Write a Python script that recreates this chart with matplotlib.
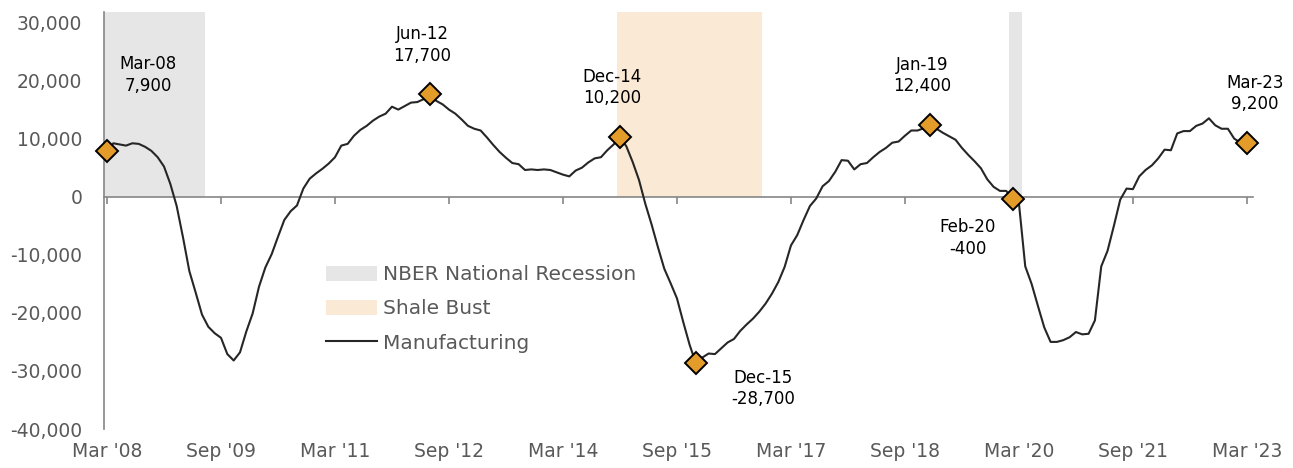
import numpy as np
import matplotlib.pyplot as plt
from matplotlib.patches import Patch
from matplotlib.lines import Line2D

# monthly change, Mar 2008 .. Mar 2023 (index 0 = Mar '08)
manufacturing = [
    7900, 9200, 9000, 8800, 9200, 9100, 8600, 7900, 6800, 5200,
    2200, -1600, -7000, -12800, -16500, -20300, -22400, -23500, -24300, -27100,
    -28200, -26800, -23200, -20100, -15500, -12200, -9900, -6900, -4000, -2500,
    -1500, 1400, 3100, 4000, 4800, 5700, 6800, 8800, 9100, 10500,
    11500, 12200, 13100, 13800, 14300, 15500, 15000, 15600, 16200, 16300,
    16800, 17700, 16500, 15900, 15000, 14300, 13300, 12200, 11700, 11400,
    10200, 8900, 7700, 6700, 5800, 5600, 4600, 4700, 4600, 4700,
    4600, 4200, 3800, 3500, 4500, 5000, 5900, 6600, 6800, 8000,
    9000, 10200, 8700, 6000, 2900, -1200, -4800, -8700, -12400, -14900,
    -17500, -21600, -25500, -28700, -27700, -27000, -27100, -26100, -25100, -24500,
    -23100, -22000, -21000, -19800, -18400, -16700, -14700, -12100, -8400, -6600,
    -4000, -1600, -300, 1800, 2700, 4300, 6300, 6200, 4700, 5600,
    5800, 6800, 7700, 8400, 9300, 9500, 10500, 11400, 11400, 11800,
    12400, 11700, 11000, 10400, 9800, 8400, 7200, 6100, 4900, 3000,
    1700, 1000, 1000, -400, -1100, -12000, -15000, -18800, -22500, -25000,
    -25000, -24700, -24200, -23300, -23700, -23600, -21300, -12000, -9300, -5000,
    -500, 1400, 1300, 3500, 4600, 5400, 6600, 8100, 8000, 10900,
    11300, 11300, 12200, 12600, 13500, 12300, 11700, 11700, 10000, 9300,
    9200,
]
months = np.arange(len(manufacturing))

tick_months = [0, 18, 36, 54, 72, 90, 108, 126, 144, 162, 180]
tick_labels = ["Mar '08", "Sep '09", "Mar '11", "Sep '12", "Mar '14", "Sep '15",
               "Mar '17", "Sep '18", "Mar '20", "Sep '21", "Mar '23"]

# shaded periods (first month, last month)
nber_recessions = [(0, 15), (143, 144)]
shale_bust = [(81, 103)]

# highlighted points
point_months = [0, 51, 81, 93, 130, 143, 180]
point_names = ['Mar-08', 'Jun-12', 'Dec-14', 'Dec-15', 'Jan-19', 'Feb-20', 'Mar-23']
label_offsets = [(41, 76), (-8, 49), (-8, 50), (67, -25), (-8, 49), (-45, -39), (8, 50)]

gray_txt = '#595959'
axis_col = '#868686'
ymin, ymax = -40000, 31800

plt.rcParams['font.family'] = ['DejaVu Sans']

fig = plt.figure(figsize=(12.93, 4.68), dpi=100)
ax = fig.add_axes([0.0808, 0.0833, 0.8855, 0.891])

# shading only above the zero line
zero_frac = (0 - ymin) / (ymax - ymin)
for s, e in nber_recessions:
    ax.axvspan(s - 0.5, e + 0.5, ymin=zero_frac, ymax=1, color='#E6E6E6', lw=0, zorder=1)
for s, e in shale_bust:
    ax.axvspan(s - 0.5, e + 0.5, ymin=zero_frac, ymax=1, color='#F9E9D5', lw=0, zorder=1)

ax.plot(months, manufacturing, color='#262626', lw=1.5, zorder=3)

vals = [manufacturing[m] for m in point_months]
ax.plot(point_months, vals, ls='none', marker='D', ms=11, mfc='#E39B2A',
        mec='black', mew=1.4, zorder=4, clip_on=False)

for m, v, name, off in zip(point_months, vals, point_names, label_offsets):
    ax.annotate(f"{name}\n{v:,.0f}", (m, v), xytext=off, textcoords='offset pixels',
                ha='center', va='center', fontsize=12, color='black',
                linespacing=1.25, zorder=5)

ax.set_xlim(-0.4, 180.4)
ax.set_ylim(ymin, ymax)
ax.set_yticks(np.arange(-40000, 30001, 10000))
ax.yaxis.set_major_formatter(plt.FuncFormatter(lambda v, p: f"{v:,.0f}"))
ax.tick_params(axis='y', length=0, pad=16, labelsize=13.5, labelcolor=gray_txt)

ax.spines['top'].set_visible(False)
ax.spines['right'].set_visible(False)
ax.spines['left'].set_color(axis_col)
ax.spines['bottom'].set_color(axis_col)
ax.spines['left'].set_linewidth(1.2)
ax.spines['bottom'].set_linewidth(1.2)
ax.spines['bottom'].set_position(('data', 0))
ax.spines['bottom'].set_bounds(-0.4, 181)
ax.set_xticks(tick_months)
ax.tick_params(axis='x', length=5, width=1.2, color=axis_col, labelbottom=False)

sec = ax.secondary_xaxis('bottom')
sec.set_xticks(tick_months, tick_labels)
sec.spines['bottom'].set_visible(False)
sec.tick_params(length=0, pad=9, labelsize=13.5, labelcolor=gray_txt)

handles = [Patch(facecolor='#E6E6E6', edgecolor='none', label='NBER National Recession'),
           Patch(facecolor='#F9E9D5', edgecolor='none', label='Shale Bust'),
           Line2D([], [], color='#262626', lw=1.5, label='Manufacturing')]
leg = ax.legend(handles=handles, loc='upper left', bbox_to_anchor=(0.178, 0.436),
                frameon=False, fontsize=14.5, handlelength=2.5, handleheight=0.8,
                labelspacing=0.75, handletextpad=0.3)
for t in leg.get_texts():
    t.set_color(gray_txt)

fig.savefig('out.png', dpi=100)
